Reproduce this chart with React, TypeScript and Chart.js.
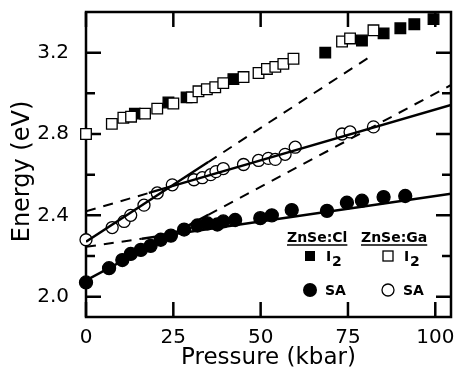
import React, { useEffect, useRef } from "react";
import { Chart, registerables } from "chart.js";

Chart.register(...registerables);

// ---- data (pressure kbar, energy eV) ----
const gaI2: [number, number][] = [
  [0, 2.8], [7.4, 2.85], [10.7, 2.88], [12.9, 2.885], [16.9, 2.9], [20.4, 2.925],
  [25.0, 2.95], [30.3, 2.98], [32.2, 3.01], [34.6, 3.02], [37.0, 3.03], [39.3, 3.05],
  [45.1, 3.08], [49.4, 3.1], [51.8, 3.12], [54.2, 3.13], [56.5, 3.145], [59.4, 3.17],
  [73.3, 3.255], [75.6, 3.27], [82.3, 3.31],
];
const clI2: [number, number][] = [
  [14.0, 2.9], [23.6, 2.955], [28.8, 2.98], [42.2, 3.07], [68.5, 3.2], [79.0, 3.26],
  [85.2, 3.295], [90.0, 3.32], [94.0, 3.34], [99.5, 3.365],
];
const gaSA: [number, number][] = [
  [0, 2.28], [7.5, 2.34], [10.9, 2.37], [12.8, 2.4], [16.6, 2.45], [20.4, 2.51],
  [24.7, 2.55], [30.9, 2.575], [33.3, 2.585], [35.7, 2.6], [37.2, 2.615], [39.3, 2.63],
  [45.1, 2.65], [49.4, 2.67], [52.2, 2.68], [54.2, 2.675], [57.0, 2.7], [59.9, 2.735],
  [73.3, 2.8], [75.6, 2.81], [82.3, 2.835],
];
const clSA: [number, number][] = [
  [0, 2.07], [6.6, 2.14], [10.4, 2.18], [12.8, 2.21], [15.7, 2.23], [18.5, 2.25],
  [21.4, 2.28], [24.3, 2.3], [28.1, 2.33], [31.9, 2.35], [34.8, 2.36], [37.6, 2.355],
  [39.3, 2.37], [42.7, 2.377], [49.9, 2.386], [53.2, 2.4], [58.9, 2.426], [69.0, 2.422],
  [74.7, 2.462], [79.0, 2.472], [85.2, 2.49], [91.4, 2.495],
];

// fitted lines (endpoints in data units)
const gaSteepSolid: [number, number][] = [[0, 2.27], [35, 2.662]];
const gaSteepDash: [number, number][] = [[35, 2.662], [82, 3.188]];
const gaShallowDash: [number, number][] = [[0, 2.42], [18, 2.51]];
const gaShallowSolid: [number, number][] = [[18, 2.51], [104.5, 2.9425]];
const clSteepSolid: [number, number][] = [[0, 2.08], [35, 2.402]];
const clSteepDash: [number, number][] = [[35, 2.402], [104.5, 3.041]];
const clShallowDash: [number, number][] = [[0, 2.245], [16, 2.285]];
const clShallowSolid: [number, number][] = [[16, 2.285], [104.5, 2.506]];

const xTicks = [0, 25, 50, 75, 100];
const yTicks = [2.0, 2.4, 2.8, 3.2];
const yMinor = [2.2, 2.6, 3.0];

const FONT = '"DejaVu Sans", "Liberation Sans", Arial, sans-serif';

const toXY = (arr: [number, number][]) => arr.map(([x, y]) => ({ x, y }));

const framePlugin = {
  id: "frame",
  beforeDatasetsDraw(chart: any) {
    const { ctx, chartArea: a, scales } = chart;
    const x = scales.x, y = scales.y;
    ctx.save();
    ctx.strokeStyle = "#000";
    ctx.lineWidth = 2.5;
    ctx.strokeRect(a.left, a.top, a.right - a.left, a.bottom - a.top);
    ctx.beginPath();
    for (const v of xTicks) {
      const px = x.getPixelForValue(v);
      ctx.moveTo(px, a.bottom); ctx.lineTo(px, a.bottom - 15);
      ctx.moveTo(px, a.top); ctx.lineTo(px, a.top + 15);
    }
    for (const v of yTicks) {
      const py = y.getPixelForValue(v);
      ctx.moveTo(a.left, py); ctx.lineTo(a.left + 15, py);
      ctx.moveTo(a.right, py); ctx.lineTo(a.right - 15, py);
    }
    for (const v of yMinor) {
      const py = y.getPixelForValue(v);
      ctx.moveTo(a.left, py); ctx.lineTo(a.left + 9, py);
      ctx.moveTo(a.right, py); ctx.lineTo(a.right - 9, py);
    }
    ctx.stroke();
    ctx.restore();
  },
  afterDraw(chart: any) {
    const { ctx, chartArea: a } = chart;
    ctx.save();
    // y axis title
    ctx.translate(a.left - 63, (a.top + a.bottom) / 2 + 7);
    ctx.rotate(-Math.PI / 2);
    ctx.fillStyle = "#000";
    ctx.font = `24px ${FONT}`;
    ctx.textAlign = "center";
    ctx.textBaseline = "middle";
    ctx.fillText("Energy (eV)", 0, 0);
    ctx.restore();

    // legend
    ctx.save();
    ctx.fillStyle = "#000";
    ctx.strokeStyle = "#000";
    ctx.font = `bold 14px ${FONT}`;
    ctx.textBaseline = "alphabetic";
    ctx.textAlign = "left";
    const c1 = a.right - 141;
    const c2 = a.right - 63;
    const hy = a.bottom - 75;
    const headers: [string, number][] = [["ZnSe:Cl", c1 - 23], ["ZnSe:Ga", c2 - 27]];
    for (const [t, hx] of headers) {
      ctx.fillText(t, hx, hy);
      const w = ctx.measureText(t).width;
      ctx.lineWidth = 1.5;
      ctx.beginPath();
      ctx.moveTo(hx, hy + 3); ctx.lineTo(hx + w, hy + 3);
      ctx.stroke();
    }
    const r2 = a.bottom - 61;
    const r3 = a.bottom - 27;
    // squares
    ctx.fillRect(c1 - 5, r2 - 5, 10, 10);
    ctx.lineWidth = 1.3;
    ctx.fillStyle = "#fff";
    ctx.fillRect(c2 - 5, r2 - 5, 10, 10);
    ctx.strokeRect(c2 - 5, r2 - 5, 10, 10);
    ctx.fillStyle = "#000";
    for (const cx of [c1, c2]) {
      ctx.font = `bold 14px ${FONT}`;
      ctx.fillText("I", cx + 16, r2 + 5);
      ctx.fillText("2", cx + 22, r2 + 10);
    }
    // circles
    ctx.beginPath();
    ctx.arc(c1, r3, 7, 0, Math.PI * 2);
    ctx.fill();
    ctx.beginPath();
    ctx.arc(c2, r3, 6, 0, Math.PI * 2);
    ctx.fillStyle = "#fff";
    ctx.fill();
    ctx.lineWidth = 1.3;
    ctx.stroke();
    ctx.fillStyle = "#000";
    ctx.fillText("SA", c1 + 15, r3 + 5);
    ctx.fillText("SA", c2 + 15, r3 + 5);
    ctx.restore();
  },
};

function lineDs(data: [number, number][], dashed: boolean) {
  return {
    type: "scatter" as const,
    data: toXY(data),
    showLine: true,
    pointRadius: 0,
    borderColor: "#000",
    borderWidth: dashed ? 2 : 2.4,
    borderDash: dashed ? [10, 8] : [],
    fill: false,
    order: 0,
  };
}

function pointDs(data: [number, number][], style: string, filled: boolean, r: number) {
  return {
    type: "scatter" as const,
    data: toXY(data),
    pointStyle: style,
    pointRadius: r,
    pointBackgroundColor: filled ? "#000" : "#fff",
    pointBorderColor: "#000",
    pointBorderWidth: 1.3,
    showLine: false,
    clip: false,
    order: 1,
  };
}

export default function App() {
  const ref = useRef<HTMLCanvasElement | null>(null);
  useEffect(() => {
    if (!ref.current) return;
    const chart = new Chart(ref.current, {
      type: "scatter",
      data: {
        datasets: [
          lineDs(gaSteepSolid, false),
          lineDs(gaSteepDash, true),
          lineDs(gaShallowDash, true),
          lineDs(gaShallowSolid, false),
          lineDs(clSteepSolid, false),
          lineDs(clSteepDash, true),
          lineDs(clShallowDash, true),
          lineDs(clShallowSolid, false),
          pointDs(gaI2, "rect", false, 7.5),
          pointDs(clI2, "rect", true, 7.5),
          pointDs(gaSA, "circle", false, 6),
          pointDs(clSA, "circle", true, 6.5),
        ] as any,
      },
      options: {
        animation: false,
        responsive: false,
        events: [],
        layout: { autoPadding: false, padding: { top: 12, right: 4, left: 0, bottom: 0 } },
        plugins: { legend: { display: false }, tooltip: { enabled: false } },
        scales: {
          x: {
            type: "linear",
            min: 0,
            max: 104.5,
            grid: { display: false, drawTicks: false },
            border: { display: false },
            afterBuildTicks: (s: any) => { s.ticks = xTicks.map((v) => ({ value: v })); },
            afterFit: (s: any) => { s.height = 67; s.paddingLeft = 0; s.paddingRight = 0; },
            ticks: {
              color: "#000",
              padding: 9,
              maxRotation: 0,
              font: { family: FONT, size: 20 },
            },
            title: {
              display: true,
              text: "Pressure (kbar)",
              color: "#000",
              font: { family: FONT, size: 23, lineHeight: 1 },
              padding: { top: 0, bottom: 14 },
            },
          },
          y: {
            type: "linear",
            min: 1.9,
            max: 3.4,
            grid: { display: false, drawTicks: false },
            border: { display: false },
            afterBuildTicks: (s: any) => { s.ticks = yTicks.map((v) => ({ value: v })); },
            afterFit: (s: any) => { s.width = 86; s.paddingTop = 0; s.paddingBottom = 0; },
            ticks: {
              color: "#000",
              padding: 17,
              font: { family: FONT, size: 20 },
              callback: (v: any) => Number(v).toFixed(1),
            },
          },
        },
      },
      plugins: [framePlugin],
    } as any);
    return () => chart.destroy();
  }, []);
  return (
    <div style={{ position: "fixed", left: 0, top: 0, width: 455, height: 384, background: "#fff" }}>
      <canvas ref={ref} width={455} height={384} />
    </div>
  );
}
